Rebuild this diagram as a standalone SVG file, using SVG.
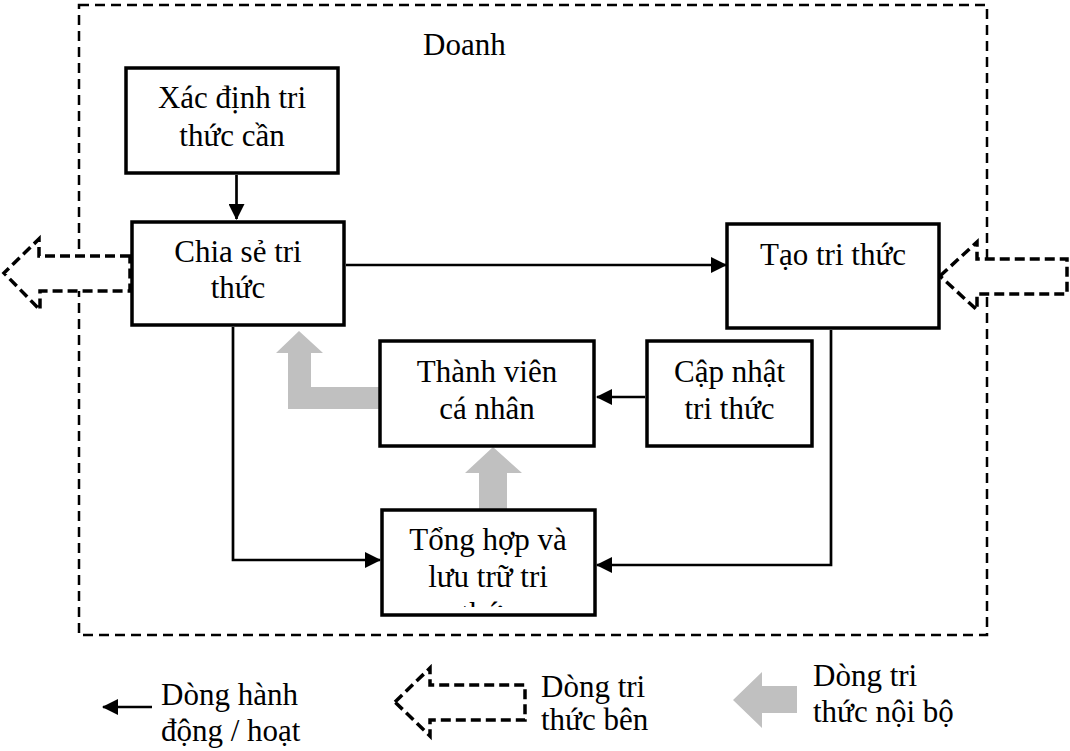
<svg xmlns="http://www.w3.org/2000/svg" width="1070" height="751" viewBox="0 0 1070 751">
  <style>
    .box { fill: #ffffff; stroke: #000000; stroke-width: 3.5; }
    .lbl { font-family: "Liberation Serif", "Times New Roman", serif; font-size: 31px; fill: #000000; text-anchor: middle; }
    .lgd { font-family: "Liberation Serif", "Times New Roman", serif; font-size: 31px; fill: #000000; }
    .flow { fill: none; stroke: #000000; stroke-width: 2.7; }
    .ext { fill: #ffffff; stroke: #000000; stroke-width: 3.5; stroke-dasharray: 10 5; }
    .int { fill: #c0c0c0; stroke: none; }
    .frame { fill: none; stroke: #000000; stroke-width: 2.5; stroke-dasharray: 10 6; }
  </style>
  <defs>
    <marker id="head" markerUnits="userSpaceOnUse" markerWidth="16" markerHeight="16" refX="15" refY="8" orient="auto">
      <path d="M0,0 L16,8 L0,16 Z" fill="#000000"/>
    </marker>
    <clipPath id="clip-store">
      <rect x="384" y="512" width="209" height="95"/>
    </clipPath>
  </defs>

  <rect width="1070" height="751" fill="#ffffff"/>

  <!-- organisation boundary -->
  <g id="boundary">
    <rect class="frame" x="79" y="5" width="908" height="630"/>
    <text class="lgd" x="423" y="55">Doanh</text>
  </g>

  <!-- external knowledge flows crossing the boundary -->
  <g id="external-flows">
    <polygon class="ext" points="130,256 39,256 39,239 4,273 40,310 40,291 130,291"/>
    <polygon class="ext" points="940,276 977,242 977,259 1067,259 1067,294 977,294 977,310"/>
  </g>

  <!-- internal knowledge flows -->
  <g id="internal-flows">
    <polygon class="int" points="380,387 311,387 311,353 323,353 299,331 276,353 288,353 288,409 380,409"/>
    <polygon class="int" points="479,510 479,473 465,473 493,447 522,473 507,473 507,510"/>
  </g>

  <!-- activity connectors -->
  <g id="connectors">
    <line class="flow" x1="236.5" y1="175" x2="236.5" y2="219" marker-end="url(#head)"/>
    <line class="flow" x1="346" y1="265" x2="726" y2="265" marker-end="url(#head)"/>
    <line class="flow" x1="645" y1="397" x2="597" y2="397" marker-end="url(#head)"/>
    <polyline class="flow" points="233,327 233,560 380,560" marker-end="url(#head)"/>
    <polyline class="flow" points="831,330 831,565 597,565" marker-end="url(#head)"/>
  </g>

  <g id="identify">
    <rect class="box" x="126" y="68" width="212" height="105"/>
    <text class="lbl" x="232" y="108">Xác định tri</text>
    <text class="lbl" x="232" y="146">thức cần</text>
  </g>

  <g id="share">
    <rect class="box" x="132" y="222" width="212" height="103"/>
    <text class="lbl" x="238" y="262">Chia sẻ tri</text>
    <text class="lbl" x="238" y="298">thức</text>
  </g>

  <g id="create">
    <rect class="box" x="727" y="224" width="212" height="104"/>
    <text class="lbl" x="833" y="265">Tạo tri thức</text>
  </g>

  <g id="member">
    <rect class="box" x="380" y="341" width="214" height="105"/>
    <text class="lbl" x="487" y="382">Thành viên</text>
    <text class="lbl" x="487" y="419">cá nhân</text>
  </g>

  <g id="update">
    <rect class="box" x="647" y="341" width="165" height="105"/>
    <text class="lbl" x="729.5" y="382">Cập nhật</text>
    <text class="lbl" x="729.5" y="419">tri thức</text>
  </g>

  <g id="store">
    <rect class="box" x="382" y="510" width="213" height="105"/>
    <text class="lbl" x="488" y="550">Tổng hợp và</text>
    <text class="lbl" x="488" y="587">lưu trữ tri</text>
    <text class="lbl" x="488" y="624" clip-path="url(#clip-store)">thức</text>
  </g>

  <!-- legend -->
  <g id="legend">
    <line class="flow" x1="152" y1="707" x2="103" y2="707" marker-end="url(#head)"/>
    <text class="lgd" x="161" y="705">Dòng hành</text>
    <text class="lgd" x="161" y="741">động / hoạt</text>

    <polygon class="ext" points="395,702 430,668 430,685 525,685 525,720 430,720 430,736"/>
    <text class="lgd" x="541" y="697">Dòng tri</text>
    <text class="lgd" x="541" y="730">thức bên</text>

    <polygon class="int" points="733,700 762,672 762,686 797,686 797,713 762,713 762,728"/>
    <text class="lgd" x="813" y="686">Dòng tri</text>
    <text class="lgd" x="813" y="722">thức nội bộ</text>
  </g>
</svg>
